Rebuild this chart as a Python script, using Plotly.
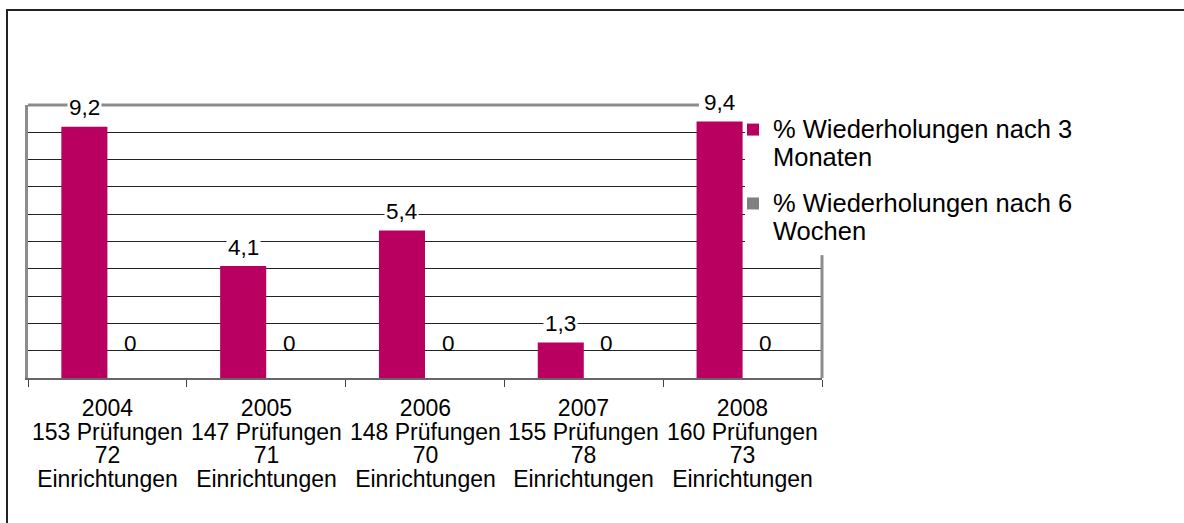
import plotly.graph_objects as go

# ---- data ----
years = ["2004", "2005", "2006", "2007", "2008"]
pruefungen = [153, 147, 148, 155, 160]
einrichtungen = [72, 71, 70, 78, 73]
nach_3_monaten = [9.2, 4.1, 5.4, 1.3, 9.4]
nach_6_wochen = [0, 0, 0, 0, 0]
series_lines = [["% Wiederholungen nach 3", "Monaten"],
                ["% Wiederholungen nach 6", "Wochen"]]

MAGENTA = "#B90060"
GRAY = "#808080"
FONT = "Liberation Sans, Arial, sans-serif"

W, H = 1184, 523
L, R, T, B = 28, 362, 105, 145
BARGAP = 0.42
plot_w = W - L - R
plot_h = H - T - B
bar_px = plot_w / len(years) * (1 - BARGAP) / 2


def tight(lines, px):
    # bigger glyphs inside a smaller base font -> Excel-like tight line spacing
    return "<br>".join(f"<span style='font-size:{px}px'>{t}</span>" for t in lines)


label_lines = [[y, f"{p} Prüfungen", f"{e}", "Einrichtungen"]
               for y, p, e in zip(years, pruefungen, einrichtungen)]
categories = ["Jahr " + y for y in years]   # category keys (labels drawn below)

fig = go.Figure()
fig.add_trace(go.Bar(x=categories, y=nach_3_monaten, name=tight(series_lines[0], 25.5),
                     marker=dict(color=MAGENTA, line=dict(width=0)),
                     legendgroup="a"))
fig.add_trace(go.Bar(x=categories, y=nach_6_wochen, name=tight(series_lines[1], 25.5),
                     marker=dict(color=GRAY, line=dict(width=0)),
                     legendgroup="b"))


def fmt(v):
    return ("%g" % v).replace(".", ",")


annotations = []
# data labels
for vals, shift in ((nach_3_monaten, -bar_px / 2), (nach_6_wochen, bar_px / 2)):
    for c, v in zip(categories, vals):
        annotations.append(dict(
            x=c, y=v, xref="x", yref="y", text=fmt(v), showarrow=False,
            xshift=shift, yshift=19 if v > 0 else 35,
            font=dict(family=FONT, size=22.5, color="#000"),
            bgcolor="white" if v > 0 else "rgba(0,0,0,0)",
        ))
# category labels
for c, lines in zip(categories, label_lines):
    annotations.append(dict(
        x=c, y=0, xref="x", yref="paper", text=tight(lines, 23), showarrow=False,
        yanchor="top", yshift=-16, borderpad=0,
        font=dict(family=FONT, size=18.2, color="#000"),
    ))

shapes = [
    # outer chart border (extends beyond the visible area at right/bottom)
    dict(type="rect", xref="paper", yref="paper",
         x0=(7 - L) / plot_w, x1=(W + 20 - L) / plot_w,
         y0=-(B + 20) / plot_h, y1=1 + (T - 10) / plot_h,
         line=dict(color="#222", width=2), layer="below"),
    # white legend box covering the upper right of the plot area
    dict(type="rect", xref="paper", yref="paper",
         x0=(745 - L) / plot_w, x1=1.02, y0=0.45, y1=1.02,
         fillcolor="white", line=dict(width=0), layer="above"),
    # top wall line
    dict(type="line", xref="paper", yref="paper", x0=0, x1=0.845, y0=1, y1=1,
         line=dict(color="#8c8c8c", width=3)),
    # right wall line
    dict(type="line", xref="paper", yref="paper", x0=1, x1=1, y0=0, y1=0.45,
         line=dict(color="#8c8c8c", width=3)),
]

fig.update_layout(
    width=W, height=H,
    margin=dict(l=L, r=R, t=T, b=B, pad=0),
    paper_bgcolor="white", plot_bgcolor="white",
    barmode="group", bargap=BARGAP, bargroupgap=0,
    font=dict(family=FONT, size=23, color="#000"),
    showlegend=True,
    legend=dict(x=(733 - L) / plot_w, xanchor="left", y=0.985, yanchor="top",
                bgcolor="rgba(0,0,0,0)",
                font=dict(family=FONT, size=21.5, color="#000"),
                valign="top", tracegroupgap=15, itemwidth=30,
                traceorder="grouped"),
    annotations=annotations,
    shapes=shapes,
)
fig.update_xaxes(type="category", showline=True, linecolor="#666", linewidth=2,
                 ticks="outside", tickson="boundaries", ticklen=7,
                 tickcolor="#444", tickwidth=1, showgrid=False,
                 showticklabels=False)
fig.update_yaxes(range=[0, 10], dtick=1, showline=True, linecolor="#8c8c8c",
                 linewidth=3, mirror=False, showgrid=True, gridcolor="#222",
                 gridwidth=1, zeroline=False, showticklabels=False, ticks="")

fig.write_html("out.html",
               config={"displayModeBar": False},
               post_script="document.body.style.margin='0';"
                           "document.body.style.overflow='hidden';")
